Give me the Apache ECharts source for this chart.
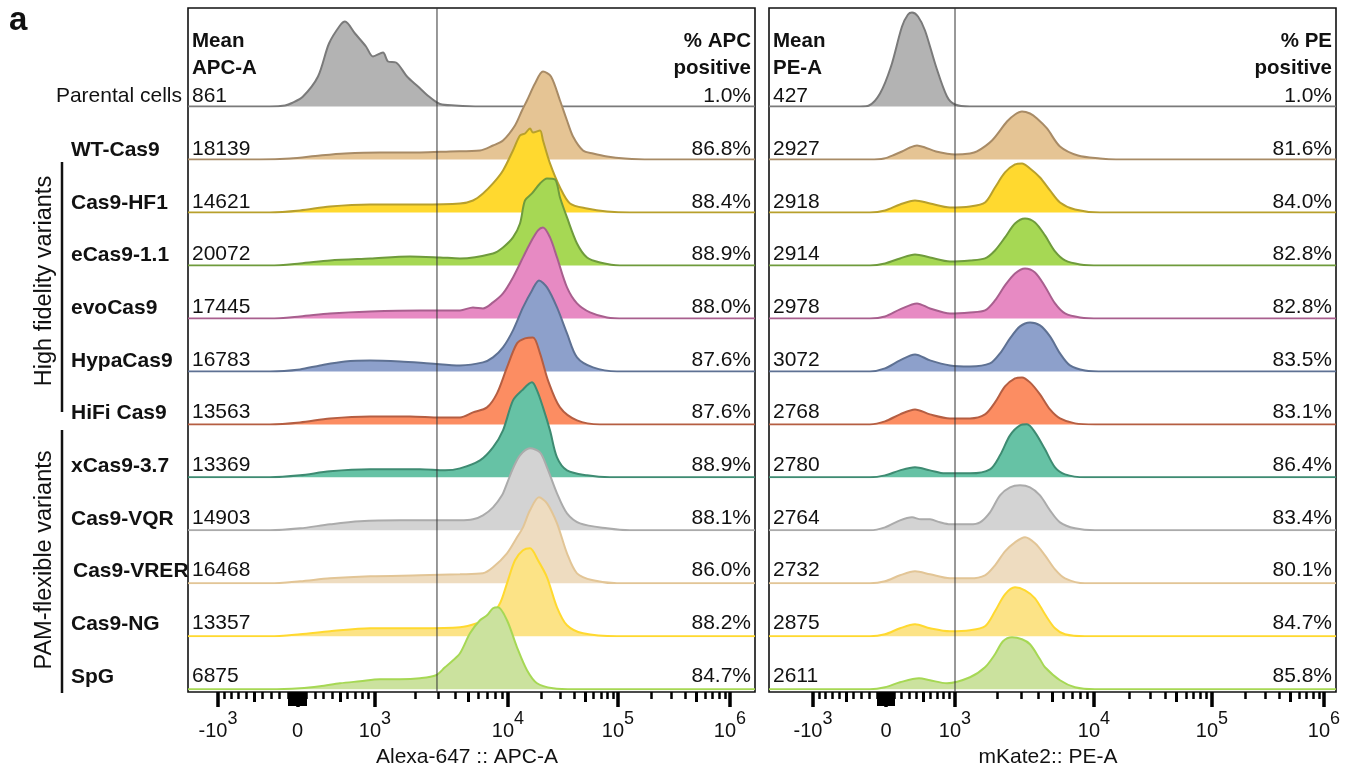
<!DOCTYPE html>
<html><head><meta charset="utf-8">
<script src="https://cdn.jsdelivr.net/npm/echarts@6/dist/echarts.min.js"></script>
<style>html,body{margin:0;padding:0;background:#fff}#c{width:1345px;height:772px}</style>
</head><body><div id="c"></div>
<script>
// ---------------- DATA ----------------
const rowNames = ['Parental cells','WT-Cas9','Cas9-HF1','eCas9-1.1','evoCas9','HypaCas9','HiFi Cas9','xCas9-3.7','Cas9-VQR','Cas9-VRER','Cas9-NG','SpG'];
const apcMean = ['861','18139','14621','20072','17445','16783','13563','13369','14903','16468','13357','6875'];
const apcPositive = ['1.0%','86.8%','88.4%','88.9%','88.0%','87.6%','87.6%','88.9%','88.1%','86.0%','88.2%','84.7%'];
const peMean = ['427','2927','2918','2914','2978','3072','2768','2780','2764','2732','2875','2611'];
const pePositive = ['1.0%','81.6%','84.0%','82.8%','82.8%','83.5%','83.1%','86.4%','83.4%','80.1%','84.7%','85.8%'];

// tick values (real fluorescence units) and labels
const tickDecades = [-1000, 0, 1000, 10000, 100000, 1000000];
const tickBase = ['-10','0','10','10','10','10'];
const tickExp = ['3','','3','4','5','6'];
// gates (real units)
const apcGate = 2925;
const peGate = 1000;

// densities: [display channel (0-567), density]
const apcParental = [[0,0],[82,0],[97,1],[104,3.5],[115,10],[130,30],[141,63],[152,81],[157,85],[167,73],[178,60],[185,50],[195,54],[200,45],[208,44],[219,30],[230,20],[241,10],[252,2.5],[267,1],[292,0],[567,0]];
const apcWT = [[0,0],[72,0],[102,1],[132,4],[157,6],[192,7],[232,7],[262,8],[292,9],[305,14],[315,19],[327,34],[334,49],[339,59],[347,76],[355,88],[363,83],[372,59],[379,39],[385,23],[395,9],[405,6],[419,3],[437,1],[462,0],[567,0]];
const apcHF1 = [[0,0],[82,0],[112,2],[142,6],[182,8],[232,8],[272,9],[285,12],[295,19],[305,29],[315,42],[325,62],[332,77],[337,79],[342,84],[345,80],[352,82],[355,72],[362,49],[372,25],[382,9],[399,4],[419,1],[442,0],[567,0]];
const apcE11 = [[0,0],[82,0],[112,2],[142,5],[182,7],[222,9],[252,8],[272,7],[305,12],[315,18],[325,28],[332,42],[337,65],[344,72],[352,82],[359,87],[367,86],[372,68],[379,48],[389,22],[399,8],[412,3],[432,0],[567,0]];
const apcEvo = [[0,0],[82,0],[112,2],[142,5],[182,7],[232,8],[272,8],[285,11],[295,10],[305,16],[315,25],[325,41],[335,61],[342,75],[350,88],[355,91],[362,81],[369,61],[379,31],[389,15],[402,6],[419,1],[437,0],[567,0]];
const apcHypa = [[0,0],[82,0],[112,2],[132,6],[157,10],[182,11],[212,10],[242,8],[272,6],[295,9],[305,14],[315,24],[325,41],[335,64],[344,81],[351,91],[359,84],[369,64],[379,38],[389,14],[405,4],[429,0],[567,0]];
const apcHiFi = [[0,0],[82,0],[112,2],[142,6],[182,8],[222,8],[252,7],[272,7],[285,12],[299,17],[309,31],[319,57],[329,81],[337,86],[345,87],[352,71],[360,44],[372,17],[389,4],[412,0],[567,0]];
const apcX37 = [[0,0],[82,0],[112,2],[142,6],[182,8],[232,8],[257,7],[272,9],[292,17],[305,30],[315,47],[325,77],[334,87],[344,95],[349,87],[355,70],[362,47],[369,20],[379,7],[399,2],[422,0],[567,0]];
const apcVQR = [[0,0],[82,0],[112,2],[142,6],[172,9],[212,10],[252,10],[272,10],[285,11],[295,15],[305,23],[314,35],[319,47],[325,62],[332,75],[342,82],[352,78],[359,63],[369,37],[379,17],[392,7],[419,2],[442,0],[567,0]];
const apcVRER = [[0,0],[82,0],[112,2],[142,5],[182,7],[232,8],[272,9],[295,10],[305,16],[319,30],[329,46],[335,56],[342,73],[351,86],[359,80],[369,60],[379,30],[389,10],[405,3],[429,0],[567,0]];
const apcNG = [[0,0],[82,0],[112,2],[142,5],[182,8],[232,8],[272,9],[289,13],[302,19],[312,33],[319,53],[327,76],[335,86],[342,88],[350,76],[359,59],[369,29],[379,11],[395,3],[429,0],[567,0]];
const apcSpG = [[0,0],[82,0],[112,1],[132,3],[152,6],[172,8],[192,10],[212,10],[232,11],[248,14],[257,22],[264,28],[272,36],[282,56],[292,69],[299,74],[305,81],[310,82],[319,69],[329,42],[339,19],[349,6],[365,1],[387,0],[567,0]];

const peParental = [[0,0],[91,0],[100,1],[111,13],[122,40],[133,80],[139,92],[143,94],[149,90],[156,76],[167,40],[178,10],[186,2],[201,0],[567,0]];
const peWT = [[0,0],[101,0],[115,1],[126,5],[133,8],[141,12],[148,14],[156,12],[167,8],[186,5],[201,6],[208,8],[223,19],[238,38],[246,45],[253,48],[261,46],[268,41],[278,31],[291,13],[309,4],[331,1],[347,0],[567,0]];
const peHF1 = [[0,0],[101,0],[116,2],[131,8],[146,12],[161,9],[181,5],[201,6],[216,10],[226,25],[236,40],[246,48],[253,49],[261,44],[271,35],[281,22],[291,10],[306,3],[331,0],[567,0]];
const peE11 = [[0,0],[101,0],[116,2],[131,7],[146,11],[161,8],[181,4],[201,5],[216,7],[226,15],[236,28],[246,42],[256,47],[266,43],[276,30],[286,14],[296,5],[311,1],[331,0],[567,0]];
const peEvo = [[0,0],[101,0],[116,2],[131,9],[148,15],[161,10],[181,5],[201,6],[216,8],[226,18],[236,33],[246,45],[256,50],[266,46],[276,32],[286,15],[296,5],[311,1],[331,0],[567,0]];
const peHypa = [[0,0],[101,0],[116,3],[131,11],[146,17],[161,11],[181,6],[201,5],[221,8],[231,18],[241,33],[251,45],[261,49],[271,46],[281,35],[291,18],[301,6],[316,1],[336,0],[567,0]];
const peHiFi = [[0,0],[101,0],[116,3],[131,10],[146,15],[161,10],[181,6],[201,6],[216,10],[226,22],[236,38],[246,46],[253,47],[261,42],[271,30],[281,15],[291,6],[306,1],[326,0],[567,0]];
const peX37 = [[0,0],[101,0],[116,2],[131,7],[146,10],[161,7],[176,4],[201,4],[221,8],[231,22],[241,42],[251,52],[258,53],[266,45],[276,28],[286,10],[296,3],[316,0],[567,0]];
const peVQR = [[0,0],[101,0],[116,3],[131,10],[143,13],[152,11],[161,11],[171,8],[181,6],[201,6],[211,8],[221,18],[231,35],[241,43],[251,45],[261,43],[271,35],[281,20],[291,8],[306,2],[326,0],[567,0]];
const peVRER = [[0,0],[101,0],[116,2],[131,8],[146,12],[161,9],[181,5],[201,5],[216,8],[226,18],[236,32],[246,41],[256,46],[266,40],[276,28],[286,14],[296,5],[316,0],[567,0]];
const peNG = [[0,0],[101,0],[116,2],[131,8],[146,12],[161,8],[181,5],[201,6],[216,10],[226,25],[236,42],[246,49],[256,46],[266,38],[276,22],[286,8],[296,2],[316,0],[567,0]];
const peSpG = [[0,0],[101,0],[116,2],[131,7],[150,11],[161,9],[178,6],[201,12],[216,22],[226,35],[234,48],[243,52],[253,50],[261,45],[271,30],[276,22],[291,9],[306,2],[326,0],[567,0]];

const apcCurves = [apcParental,apcWT,apcHF1,apcE11,apcEvo,apcHypa,apcHiFi,apcX37,apcVQR,apcVRER,apcNG,apcSpG];
const peCurves = [peParental,peWT,peHF1,peE11,peEvo,peHypa,peHiFi,peX37,peVQR,peVRER,peNG,peSpG];

// ---------------- STYLE / LAYOUT ----------------
const fills = ['#B3B3B3','#E5C494','#FFD92F','#A6D854','#E78AC3','#8DA0CB','#FC8D62','#66C2A5','#D3D3D3','#EEDCC0','#FCE386','#CBE29E'];
const strokes = ['#7A7A7A','#A88B66','#B8A02C','#6F9B3C','#A85F8E','#5E7193','#B55E42','#3E8B72','#ABABAB','#E2C596','#FFD92F','#A6D854'];
const FONT = '"Liberation Sans", Arial, Helvetica, sans-serif';
const W = 567, FRAME_TOP = 8, FRAME_H = 684, ROW_H = 100;
const rowBase = i => 106.5 + i * 52.98;
const textY = i => 96.5 + i * 52.66;
// axis calibration (display channel of each decade)
const apcCalib = [30, 109.5, 187, 320, 430, 542];
const peCalib = [44, 117, 186, 325, 443, 555];

function makeScale(pos) {
  const A = tickDecades;
  return function (v) {
    let i = 0;
    while (i < A.length - 2 && v > A[i + 1]) i++;
    const a = A[i], b = A[i + 1];
    let f;
    if (a >= 1000) f = (Math.log10(v) - Math.log10(a)) / (Math.log10(b) - Math.log10(a));
    else f = (Math.asinh(v / 1000) - Math.asinh(a / 1000)) / (Math.asinh(b / 1000) - Math.asinh(a / 1000));
    return pos[i] + f * (pos[i + 1] - pos[i]);
  };
}
// tick value sets
const clusterVals = [], mediumVals = [], minorVals = [];
for (let m = 1; m <= 9; m++) { clusterVals.push(m * 10, -m * 10); }
for (let m = 1; m <= 9; m++) { (m === 5 ? mediumVals : minorVals).push(m * 100, -m * 100); }
for (const k of [3, 4, 5]) for (let m = 2; m <= 9; m++) { (m === 5 ? mediumVals : minorVals).push(m * Math.pow(10, k)); }

const panels = [
  { left: 188, curves: apcCurves, mean: apcMean, pos: apcPositive, calib: apcCalib, gate: apcGate,
    h1: ['Mean', 'APC-A'], h2: ['% APC', 'positive'], title: 'Alexa-647 :: APC-A', titleX: 467 },
  { left: 769, curves: peCurves, mean: peMean, pos: pePositive, calib: peCalib, gate: peGate,
    h1: ['Mean', 'PE-A'], h2: ['% PE', 'positive'], title: 'mKate2:: PE-A', titleX: 1048 }
];

const grid = [], xAxis = [], yAxis = [], series = [], graphic = [];
const txtStyle = (text, size, weight, align) => ({
  text, fill: '#111', font: `${weight} ${size}px ${FONT}`,
  textAlign: align, align: align, textVerticalAlign: 'middle', verticalAlign: 'middle'
});
function txt(x, y, text, size, weight, align, extra) {
  graphic.push(Object.assign({ type: 'text', x, y, z: 200, silent: true, style: txtStyle(text, size, weight, align) }, extra || {}));
}

let zc = 2;
panels.forEach((p, pi) => {
  const scale = makeScale(p.calib);
  const fg = grid.length;
  grid.push({ left: p.left, top: FRAME_TOP, width: W, height: FRAME_H, show: true, borderColor: '#111', borderWidth: 1.6, backgroundColor: 'transparent' });
  const labelPos = tickDecades.map(scale);
  const fx = xAxis.length;
  const baseAxis = (vals, len, width, withLabel) => ({
    type: 'value', gridIndex: fg, min: 0, max: W, position: 'bottom', offset: 0,
    axisLine: { show: false }, splitLine: { show: false },
    axisTick: { show: true, customValues: vals.map(scale), length: len, lineStyle: { color: '#000', width } },
    axisLabel: withLabel ? {
      show: true, customValues: labelPos, margin: 18,
      formatter: function (val) {
        let best = 0, bd = 1e9;
        labelPos.forEach((lp, i) => { const d = Math.abs(lp - val); if (d < bd) { bd = d; best = i; } });
        return tickExp[best] ? `{b|${tickBase[best]}}{s|${tickExp[best]}}` : `{b|${tickBase[best]}}`;
      },
      rich: {
        b: { fontSize: 20, fontFamily: FONT, color: '#111', verticalAlign: 'bottom', lineHeight: 31 },
        s: { fontSize: 18, fontFamily: FONT, color: '#111', verticalAlign: 'top', lineHeight: 18 }
      }
    } : { show: false }
  });
  xAxis.push(baseAxis(tickDecades, 15, 3.5, true));
  xAxis.push(baseAxis(clusterVals, 14, 3, false));
  xAxis.push(baseAxis(mediumVals, 10, 3, false));
  xAxis.push(baseAxis(minorVals, 7, 2.5, false));
  const fy = yAxis.length;
  yAxis.push({ type: 'value', gridIndex: fg, min: 0, max: 1, show: false });

  p.curves.forEach((curve, i) => {
    const g = grid.length;
    const base = rowBase(i);
    grid.push({ left: p.left, top: base - ROW_H, width: W, height: ROW_H, show: false });
    const xi = xAxis.length, yi = yAxis.length;
    xAxis.push({ type: 'value', gridIndex: g, min: 0, max: W, show: false });
    yAxis.push({ type: 'value', gridIndex: g, min: 0, max: ROW_H, show: false });
    series.push({
      type: 'line', xAxisIndex: xi, yAxisIndex: yi, data: curve, smooth: 0.3, symbol: 'none', silent: true,
      z: zc++, lineStyle: { color: strokes[i], width: 2 },
      areaStyle: { color: fills[i], opacity: 1 }
    });
    txt(p.left + 4, textY(i), p.mean[i], 21, 'normal', 'left');
    txt(p.left + W - 4, textY(i), p.pos[i], 21, 'normal', 'right');
  });
  const gx = scale(p.gate);
  series.push({ type: 'line', xAxisIndex: fx, yAxisIndex: fy, data: [[gx, 0], [gx, 1]], symbol: 'none', silent: true,
    z: 100, lineStyle: { color: '#333', width: 1 } });
  txt(p.left + 4, 41, p.h1[0], 20.5, 'bold', 'left');
  txt(p.left + 4, 68, p.h1[1], 20.5, 'bold', 'left');
  txt(p.left + W - 4, 41, p.h2[0], 20.5, 'bold', 'right');
  txt(p.left + W - 4, 68, p.h2[1], 20.5, 'bold', 'right');
  txt(p.titleX, 757, p.title, 21, 'normal', 'center');
});

rowNames.forEach((n, i) => {
  if (i === 0) txt(182, textY(i), n, 21, 'normal', 'right');
  else txt(i === 9 ? 73 : 71, textY(i) + 1, n, 21, 'bold', 'left');
});
graphic.push({ type: 'line', z: 200, silent: true, shape: { x1: 62, y1: 162, x2: 62, y2: 412 }, style: { stroke: '#111', lineWidth: 2.5 } });
graphic.push({ type: 'line', z: 200, silent: true, shape: { x1: 62, y1: 430, x2: 62, y2: 693 }, style: { stroke: '#111', lineWidth: 2.5 } });
txt(45, 281, 'High fidelity variants', 23.5, 'normal', 'center', { rotation: Math.PI / 2 });
txt(45, 560, 'PAM-flexible variants', 23.5, 'normal', 'center', { rotation: Math.PI / 2 });
txt(9, 21, 'a', 33, 'bold', 'left');

const chart = echarts.init(document.getElementById('c'), null, { renderer: 'canvas' });
chart.setOption({ animation: false, backgroundColor: '#fff', grid, xAxis, yAxis, series, graphic });
</script></body></html>
